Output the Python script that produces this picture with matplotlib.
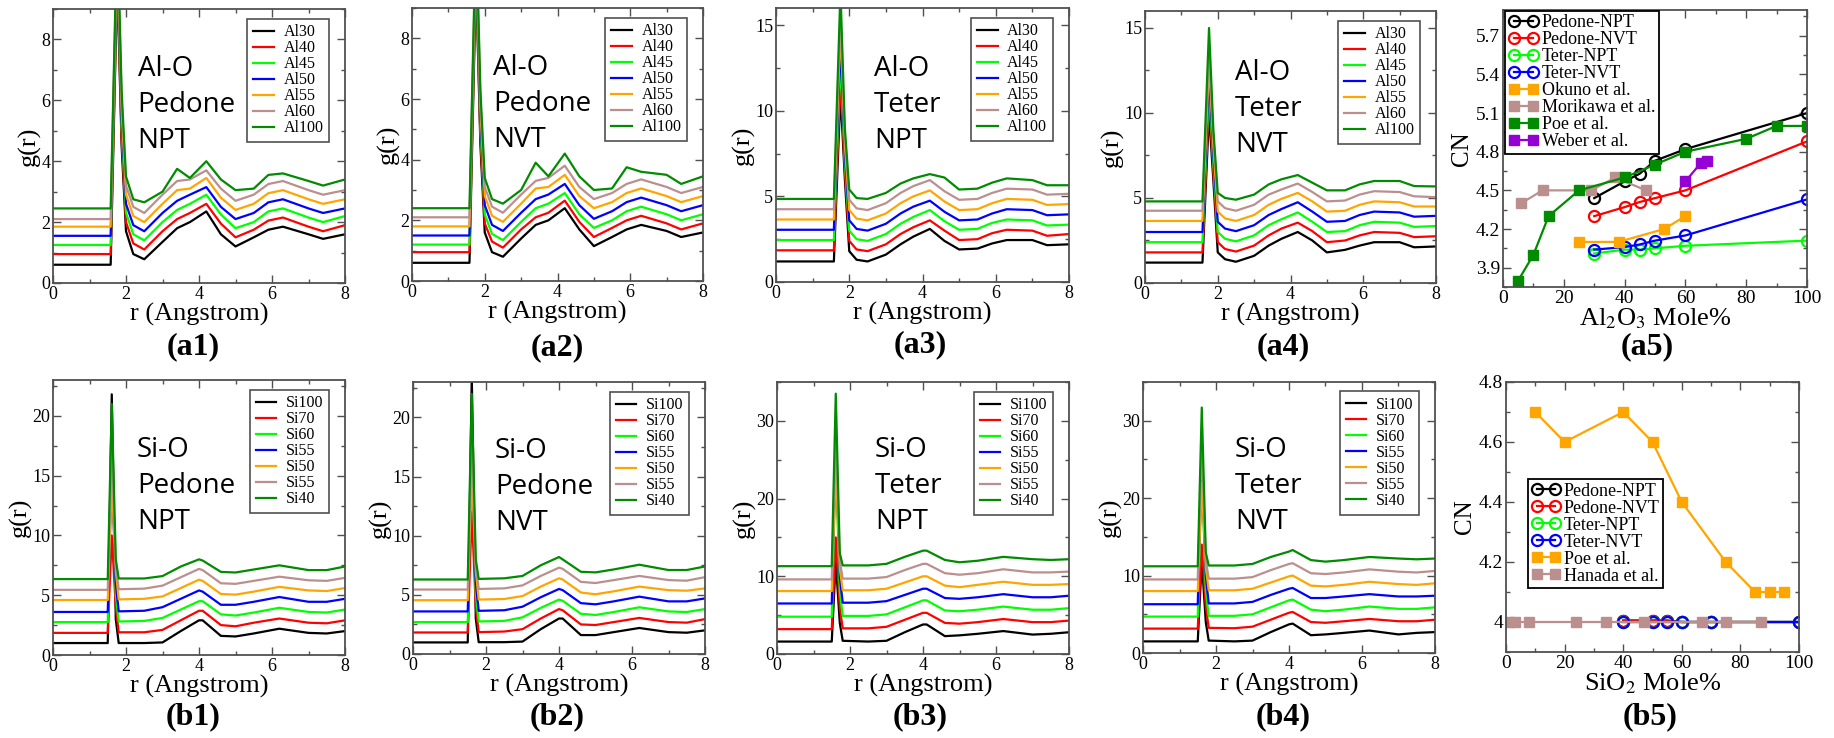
import matplotlib
matplotlib.use("Agg")
import matplotlib.pyplot as plt
from matplotlib.ticker import MultipleLocator

plt.rcParams['font.family'] = ['Liberation Serif', 'DejaVu Serif']
plt.rcParams['mathtext.fontset'] = 'stix'

W, H = 1834, 738

# xmgrace style colours
grace = ['black', '#ff0000', '#00ff00', '#0000ff', '#ffa500', '#bc8f8f', '#008b00']

al_labels = ['Al30', 'Al40', 'Al45', 'Al50', 'Al55', 'Al60', 'Al100']
si_labels = ['Si100', 'Si70', 'Si60', 'Si55', 'Si50', 'Si55', 'Si40']

# ---- Al-O g(r) ----
r_al = [0, 1.58, 1.76, 1.88, 2.0, 2.2, 2.5, 3.0, 3.4, 3.75, 4.2, 4.6, 5.0, 5.5, 5.9, 6.3, 7.0, 7.4, 8.0]

a1_g = [
    [0.6, 0.6, 10.0, 4.5, 1.7, 0.95, 0.78, 1.35, 1.8, 2.0, 2.35, 1.6, 1.2, 1.5, 1.75, 1.85, 1.6, 1.45, 1.6],
    [0.95, 0.95, 10.3, 4.8, 2.0, 1.3, 1.1, 1.7, 2.1, 2.3, 2.6, 1.95, 1.5, 1.75, 2.05, 2.15, 1.85, 1.7, 1.9],
    [1.25, 1.25, 10.6, 5.1, 2.3, 1.6, 1.4, 2.0, 2.4, 2.6, 2.9, 2.25, 1.8, 2.0, 2.35, 2.45, 2.15, 2.0, 2.2],
    [1.55, 1.55, 10.9, 5.4, 2.6, 1.9, 1.7, 2.3, 2.7, 2.9, 3.15, 2.5, 2.1, 2.3, 2.65, 2.75, 2.45, 2.3, 2.45],
    [1.85, 1.85, 11.2, 5.7, 2.9, 2.2, 2.0, 2.6, 3.05, 3.1, 3.45, 2.8, 2.4, 2.6, 2.95, 3.05, 2.75, 2.6, 2.75],
    [2.1, 2.1, 11.5, 6.0, 3.2, 2.5, 2.3, 2.9, 3.35, 3.4, 3.7, 3.1, 2.7, 2.9, 3.25, 3.35, 3.05, 2.9, 3.05],
    [2.45, 2.45, 11.8, 6.3, 3.5, 2.75, 2.65, 3.0, 3.75, 3.45, 4.0, 3.4, 3.05, 3.1, 3.55, 3.6, 3.35, 3.2, 3.4],
]
a2_g = [
    [0.6, 0.6, 10.0, 4.5, 1.6, 0.95, 0.8, 1.4, 1.85, 2.0, 2.4, 1.7, 1.15, 1.45, 1.7, 1.85, 1.65, 1.45, 1.6],
    [0.95, 0.95, 10.3, 4.8, 1.9, 1.3, 1.1, 1.7, 2.1, 2.25, 2.65, 1.95, 1.45, 1.75, 2.0, 2.15, 1.9, 1.7, 1.9],
    [1.2, 1.2, 10.6, 5.1, 2.2, 1.55, 1.35, 1.95, 2.4, 2.55, 2.9, 2.2, 1.75, 2.0, 2.3, 2.45, 2.2, 2.0, 2.2],
    [1.5, 1.5, 10.9, 5.4, 2.5, 1.85, 1.65, 2.25, 2.7, 2.85, 3.2, 2.5, 2.05, 2.3, 2.6, 2.75, 2.5, 2.3, 2.5],
    [1.8, 1.8, 11.2, 5.7, 2.8, 2.15, 1.95, 2.55, 3.05, 3.1, 3.5, 2.8, 2.4, 2.6, 2.9, 3.05, 2.8, 2.6, 2.8],
    [2.1, 2.1, 11.5, 6.0, 3.1, 2.45, 2.25, 2.85, 3.3, 3.4, 3.8, 3.1, 2.7, 2.9, 3.2, 3.35, 3.1, 2.9, 3.1],
    [2.4, 2.4, 11.8, 6.3, 3.4, 2.7, 2.55, 3.0, 3.9, 3.45, 4.2, 3.45, 3.0, 3.05, 3.75, 3.6, 3.5, 3.2, 3.45],
]
a3_g = [
    [1.2, 1.2, 11.0, 6.0, 1.8, 1.3, 1.2, 1.6, 2.2, 2.65, 3.1, 2.4, 1.9, 1.95, 2.25, 2.45, 2.45, 2.15, 2.2],
    [1.85, 1.85, 12.0, 6.5, 2.4, 1.9, 1.8, 2.2, 2.8, 3.2, 3.6, 3.0, 2.45, 2.5, 2.85, 3.05, 3.0, 2.7, 2.8],
    [2.45, 2.45, 13.0, 7.0, 3.0, 2.5, 2.4, 2.8, 3.4, 3.8, 4.2, 3.55, 3.05, 3.1, 3.45, 3.65, 3.6, 3.3, 3.35],
    [3.05, 3.05, 14.0, 7.5, 3.6, 3.1, 3.0, 3.4, 4.0, 4.4, 4.75, 4.1, 3.6, 3.65, 4.0, 4.25, 4.2, 3.9, 3.95],
    [3.65, 3.65, 15.0, 8.0, 4.2, 3.7, 3.6, 4.0, 4.6, 5.0, 5.35, 4.7, 4.2, 4.25, 4.6, 4.85, 4.8, 4.5, 4.55],
    [4.25, 4.25, 15.5, 8.5, 4.8, 4.3, 4.2, 4.6, 5.2, 5.6, 5.95, 5.3, 4.8, 4.85, 5.2, 5.45, 5.4, 5.1, 5.15],
    [4.85, 4.85, 17.0, 9.0, 5.4, 4.9, 4.85, 5.2, 5.75, 6.05, 6.3, 6.1, 5.4, 5.45, 5.8, 6.05, 5.95, 5.65, 5.65],
]
a4_g = [
    [1.2, 1.2, 10.0, 6.0, 1.8, 1.4, 1.25, 1.6, 2.2, 2.6, 3.0, 2.5, 1.8, 1.95, 2.2, 2.4, 2.4, 2.1, 2.15],
    [1.8, 1.8, 11.0, 6.5, 2.4, 2.0, 1.85, 2.2, 2.8, 3.2, 3.55, 3.05, 2.4, 2.5, 2.8, 3.0, 2.95, 2.7, 2.75],
    [2.4, 2.4, 11.5, 7.0, 3.0, 2.6, 2.45, 2.8, 3.4, 3.75, 4.15, 3.6, 3.0, 3.05, 3.4, 3.6, 3.55, 3.3, 3.35],
    [3.0, 3.0, 12.3, 7.5, 3.6, 3.2, 3.05, 3.4, 4.0, 4.35, 4.75, 4.2, 3.6, 3.65, 4.0, 4.2, 4.15, 3.9, 3.95],
    [3.65, 3.65, 13.0, 8.0, 4.2, 3.8, 3.65, 4.0, 4.6, 4.95, 5.3, 4.8, 4.2, 4.25, 4.6, 4.8, 4.75, 4.5, 4.5],
    [4.25, 4.25, 13.5, 8.5, 4.8, 4.4, 4.25, 4.6, 5.2, 5.5, 5.85, 5.35, 4.8, 4.85, 5.2, 5.4, 5.35, 5.1, 5.05],
    [4.8, 4.8, 15.0, 9.0, 5.3, 5.0, 4.9, 5.2, 5.8, 6.1, 6.35, 5.9, 5.45, 5.45, 5.8, 6.0, 6.0, 5.7, 5.68],
]

# ---- Si-O g(r) ----
r_si = [0, 1.5, 1.61, 1.72, 1.8, 2.5, 3.0, 3.5, 4.0, 4.1, 4.6, 5.0, 5.5, 6.2, 7.0, 7.5, 8.0]

b1_g = [
    [1.0, 1.0, 21.8, 3.0, 1.0, 1.0, 1.05, 2.0, 2.9, 2.9, 1.6, 1.55, 1.8, 2.2, 1.85, 1.8, 2.0],
    [1.85, 1.85, 10.0, 4.0, 1.9, 1.9, 2.1, 2.9, 3.7, 3.7, 2.5, 2.4, 2.7, 3.05, 2.7, 2.65, 2.9],
    [2.75, 2.75, 18.0, 5.0, 2.8, 2.85, 3.1, 3.8, 4.5, 4.5, 3.4, 3.3, 3.55, 3.95, 3.6, 3.55, 3.8],
    [3.6, 3.6, 15.5, 6.0, 3.65, 3.7, 4.0, 4.7, 5.4, 5.3, 4.2, 4.2, 4.45, 4.85, 4.45, 4.45, 4.7],
    [4.6, 4.6, 14.5, 7.0, 4.65, 4.7, 4.9, 5.6, 6.3, 6.2, 5.1, 5.05, 5.3, 5.7, 5.4, 5.35, 5.6],
    [5.45, 5.45, 17.0, 7.5, 5.5, 5.55, 5.8, 6.5, 7.2, 7.1, 6.0, 5.95, 6.2, 6.55, 6.25, 6.2, 6.45],
    [6.35, 6.35, 21.0, 8.0, 6.4, 6.4, 6.6, 7.4, 8.0, 7.9, 6.95, 6.9, 7.15, 7.5, 7.1, 7.1, 7.4],
]
b2_g = [
    [0.98, 0.98, 23.5, 3.0, 1.0, 1.0, 1.05, 2.1, 3.0, 3.0, 1.6, 1.6, 1.85, 2.2, 1.85, 1.8, 2.0],
    [1.82, 1.82, 12.0, 4.0, 1.85, 1.9, 2.1, 3.0, 3.8, 3.7, 2.5, 2.45, 2.7, 3.05, 2.7, 2.65, 2.95],
    [2.7, 2.7, 19.0, 5.0, 2.75, 2.8, 3.1, 3.9, 4.6, 4.5, 3.4, 3.3, 3.55, 3.95, 3.6, 3.55, 3.8],
    [3.6, 3.6, 17.0, 6.0, 3.65, 3.7, 4.0, 4.8, 5.5, 5.4, 4.3, 4.2, 4.45, 4.85, 4.45, 4.45, 4.7],
    [4.55, 4.55, 15.5, 7.0, 4.6, 4.65, 4.9, 5.7, 6.4, 6.3, 5.2, 5.05, 5.3, 5.7, 5.4, 5.35, 5.55],
    [5.45, 5.45, 18.0, 7.5, 5.5, 5.55, 5.8, 6.6, 7.3, 7.2, 6.1, 6.0, 6.25, 6.6, 6.25, 6.2, 6.5],
    [6.3, 6.3, 22.0, 8.0, 6.35, 6.4, 6.6, 7.5, 8.2, 8.0, 6.95, 6.9, 7.15, 7.55, 7.1, 7.1, 7.4],
]
b3_g = [
    [1.6, 1.6, 12.0, 4.0, 1.7, 1.6, 1.7, 2.8, 3.8, 3.8, 2.3, 2.4, 2.6, 2.95, 2.5, 2.6, 2.8],
    [3.2, 3.2, 15.0, 6.0, 3.3, 3.3, 3.5, 4.4, 5.3, 5.3, 4.0, 3.9, 4.1, 4.5, 4.1, 4.1, 4.3],
    [4.8, 4.8, 25.0, 8.0, 4.9, 4.9, 5.1, 6.0, 6.9, 6.9, 5.6, 5.5, 5.7, 6.1, 5.7, 5.7, 5.9],
    [6.5, 6.5, 27.0, 10.0, 6.6, 6.6, 6.8, 7.6, 8.4, 8.4, 7.2, 7.1, 7.3, 7.7, 7.3, 7.3, 7.5],
    [8.1, 8.1, 24.0, 11.0, 8.2, 8.2, 8.4, 9.2, 10.0, 10.0, 8.8, 8.6, 8.9, 9.3, 8.9, 8.9, 9.0],
    [9.6, 9.6, 28.0, 12.0, 9.7, 9.7, 9.9, 10.8, 11.6, 11.6, 10.4, 10.2, 10.4, 10.9, 10.5, 10.5, 10.6],
    [11.3, 11.3, 33.5, 13.0, 11.4, 11.4, 11.6, 12.5, 13.3, 13.3, 12.1, 11.8, 12.0, 12.5, 12.2, 12.1, 12.2],
]
b4_g = [
    [1.5, 1.5, 12.0, 4.0, 1.6, 1.5, 1.6, 2.7, 3.7, 3.8, 2.3, 2.4, 2.6, 2.9, 2.4, 2.6, 2.7],
    [3.15, 3.15, 14.0, 6.0, 3.25, 3.2, 3.4, 4.3, 5.2, 5.3, 4.0, 3.9, 4.1, 4.4, 4.1, 4.1, 4.3],
    [4.7, 4.7, 24.0, 8.0, 4.8, 4.8, 5.0, 5.9, 6.8, 6.9, 5.6, 5.4, 5.6, 6.0, 5.7, 5.7, 5.9],
    [6.3, 6.3, 25.0, 10.0, 6.4, 6.4, 6.6, 7.5, 8.3, 8.4, 7.1, 7.1, 7.3, 7.6, 7.3, 7.3, 7.4],
    [8.0, 8.0, 22.0, 11.0, 8.1, 8.1, 8.3, 9.1, 9.9, 10.0, 8.7, 8.6, 8.8, 9.2, 8.9, 8.8, 9.0],
    [9.5, 9.5, 27.0, 12.0, 9.6, 9.6, 9.8, 10.7, 11.5, 11.6, 10.3, 10.2, 10.4, 10.8, 10.5, 10.4, 10.6],
    [11.2, 11.2, 31.7, 13.0, 11.3, 11.3, 11.5, 12.4, 13.1, 13.3, 12.0, 11.8, 12.0, 12.4, 12.2, 12.1, 12.2],
]

# ---- CN vs Al2O3 mole% (a5) ----
al_sim_x = [30, 40, 45, 50, 60, 100]
al_pedone_npt = [4.44, 4.57, 4.63, 4.73, 4.82, 5.10]
al_pedone_nvt = [4.30, 4.37, 4.41, 4.44, 4.50, 4.88]
al_teter_npt = [4.01, 4.04, 4.04, 4.05, 4.07, 4.11]
al_teter_nvt = [4.04, 4.06, 4.08, 4.11, 4.15, 4.43]
okuno_x = [25, 38, 53, 60]
okuno_cn = [4.10, 4.10, 4.20, 4.30]
morikawa_x = [6, 13, 29, 37, 47]
morikawa_cn = [4.40, 4.50, 4.50, 4.60, 4.50]
poe_al_x = [5, 10, 15, 25, 40, 50, 60, 80, 90, 100]
poe_al_cn = [3.80, 4.00, 4.30, 4.50, 4.60, 4.70, 4.80, 4.90, 5.00, 5.00]
weber_x = [60, 65, 67]
weber_cn = [4.57, 4.71, 4.73]

# ---- CN vs SiO2 mole% (b5) ----
si_sim_x = [40, 50, 55, 60, 70, 100]
si_pedone_npt = [4.005, 4.005, 4.005, 4.0, 4.0, 4.0]
si_pedone_nvt = [4.003, 4.003, 4.003, 4.0, 4.0, 4.0]
si_teter_npt = [4.0, 4.0, 4.0, 4.0, 4.0, 4.0]
si_teter_nvt = [4.0, 4.0, 4.0, 4.0, 4.0, 4.0]
poe_si_x = [10, 20, 40, 50, 60, 75, 85, 90, 95]
poe_si_cn = [4.7, 4.6, 4.7, 4.6, 4.4, 4.2, 4.1, 4.1, 4.1]
hanada_x = [1, 3, 8, 24, 34, 47, 67, 75, 87]
hanada_cn = [4.0, 4.0, 4.0, 4.0, 4.0, 4.0, 4.0, 4.0, 4.0]


fig = plt.figure(figsize=(W / 100, H / 100), dpi=100)
frame_col = '#505050'


def add_box(left, top, right, bottom):
    return fig.add_axes([left / W, 1 - bottom / H, (right - left) / W, (bottom - top) / H])


def style(ax, xmaj, xmin, ymaj, ymin, lsize=13):
    ax.xaxis.set_major_locator(MultipleLocator(xmaj))
    ax.xaxis.set_minor_locator(MultipleLocator(xmin))
    ax.yaxis.set_major_locator(MultipleLocator(ymaj))
    ax.yaxis.set_minor_locator(MultipleLocator(ymin))
    ax.tick_params(which='both', direction='in', top=True, right=True, color=frame_col,
                   labelsize=lsize, pad=2)
    ax.tick_params(which='major', length=6, width=1)
    ax.tick_params(which='minor', length=3, width=1)
    for s in ax.spines.values():
        s.set_color(frame_col)
        s.set_linewidth(1.3)


def gr_panel(box, r, curves, labels, ytop, ymaj, ymin, note, note_x, note_y):
    ax = add_box(*box)
    for g, c, lab in zip(curves, grace, labels):
        ax.plot(r, g, color=c, lw=1.6, label=lab)
    ax.set_xlim(0, 8)
    ax.set_ylim(0, ytop)
    style(ax, 2, 1, ymaj, ymin)
    ax.yaxis.set_major_formatter(plt.FuncFormatter(lambda v, p: '%g' % v))
    ax.set_xlabel('r (Angstrom)', fontsize=19, labelpad=0)
    ax.set_ylabel('g(r)', fontsize=19, labelpad=0)
    leg = ax.legend(loc='upper right', bbox_to_anchor=(0.945, 0.965), borderaxespad=0,
                    fontsize=11.5, labelspacing=0.0, handlelength=1.3, handletextpad=0.6,
                    borderpad=0.35, fancybox=False, framealpha=1)
    leg.get_frame().set_edgecolor(frame_col)
    leg.get_frame().set_linewidth(1.2)
    # three lines of annotation, 36 px apart
    pitch = 36 / (box[3] - box[1])
    for i, line in enumerate(note):
        ax.text(note_x, note_y - i * pitch, line, transform=ax.transAxes, va='baseline',
                ha='left', fontsize=20, family=['Open Sans', 'DejaVu Sans'])
    return ax


gr_panel((53, 9, 345, 283), r_al, a1_g, al_labels, 9, 2, 1, ['Al-O', 'Pedone', 'NPT'], 0.29, 0.755)
gr_panel((412, 8, 703, 281), r_al, a2_g, al_labels, 9, 2, 1, ['Al-O', 'Pedone', 'NVT'], 0.28, 0.755)
gr_panel((776, 8, 1069, 282), r_al, a3_g, al_labels, 16, 5, 2.5, ['Al-O', 'Teter', 'NPT'], 0.335, 0.752)
gr_panel((1145, 11, 1436, 283), r_al, a4_g, al_labels, 16, 5, 2.5, ['Al-O', 'Teter', 'NVT'], 0.31, 0.745)
gr_panel((53, 380, 345, 655), r_si, b1_g, si_labels, 23, 5, 2.5, ['Si-O', 'Pedone', 'NPT'], 0.288, 0.72)
gr_panel((413, 382, 705, 654), r_si, b2_g, si_labels, 23, 5, 2.5, ['Si-O', 'Pedone', 'NVT'], 0.28, 0.72)
gr_panel((777, 382, 1069, 654), r_si, b3_g, si_labels, 35, 10, 5, ['Si-O', 'Teter', 'NPT'], 0.335, 0.724)
gr_panel((1143, 382, 1435, 653), r_si, b4_g, si_labels, 35, 10, 5, ['Si-O', 'Teter', 'NVT'], 0.315, 0.724)

# ---- a5 ----
ax5 = add_box(1503, 10, 1807, 287)
circ = dict(marker='o', mfc='none', ms=8, mew=1.6, lw=1.6)
sq = dict(marker='s', ms=7, lw=1.6)
ax5.plot(al_sim_x, al_pedone_npt, color='black', label='Pedone-NPT', **circ)
ax5.plot(al_sim_x, al_pedone_nvt, color='#ff0000', label='Pedone-NVT', **circ)
ax5.plot(al_sim_x, al_teter_npt, color='#00ff00', label='Teter-NPT', **circ)
ax5.plot(al_sim_x, al_teter_nvt, color='#0000ff', label='Teter-NVT', **circ)
ax5.plot(okuno_x, okuno_cn, color='#ffa500', label='Okuno et al.', **sq)
ax5.plot(morikawa_x, morikawa_cn, color='#bc8f8f', label='Morikawa et al.', **sq)
ax5.plot(poe_al_x, poe_al_cn, color='#008b00', label='Poe et al.', **sq)
ax5.plot(weber_x, weber_cn, color='#9400d3', label='Weber et al.', **sq)
ax5.set_xlim(0, 100)
ax5.set_ylim(3.75, 5.9)
style(ax5, 20, 10, 0.3, 0.15, lsize=14)
ax5.yaxis.set_major_locator(plt.FixedLocator([3.9, 4.2, 4.5, 4.8, 5.1, 5.4, 5.7]))
ax5.yaxis.set_major_formatter(plt.FuncFormatter(lambda v, p: '%.1f' % v))
ax5.set_xlabel('Al$_2$O$_3$ Mole%', fontsize=19, labelpad=0)
ax5.set_ylabel('CN', fontsize=18, labelpad=2)
leg = ax5.legend(loc='upper left', bbox_to_anchor=(0.008, 0.997), borderaxespad=0, numpoints=2,
                 fontsize=13, labelspacing=0.0, handlelength=1.6, handletextpad=0.2,
                 borderpad=0.2, fancybox=False, framealpha=1)
leg.get_frame().set_edgecolor('black')
leg.get_frame().set_linewidth(1.3)

# ---- b5 ----
ax6 = add_box(1506, 382, 1799, 652)
ax6.plot(si_sim_x, si_pedone_npt, color='black', label='Pedone-NPT', **circ)
ax6.plot(si_sim_x, si_pedone_nvt, color='#ff0000', label='Pedone-NVT', **circ)
ax6.plot(si_sim_x, si_teter_npt, color='#00ff00', label='Teter-NPT', **circ)
ax6.plot(si_sim_x, si_teter_nvt, color='#0000ff', label='Teter-NVT', **circ)
ax6.plot(poe_si_x, poe_si_cn, color='#ffa500', label='Poe et al.', **sq)
ax6.plot(hanada_x, hanada_cn, color='#bc8f8f', label='Hanada et al.', **sq)
ax6.set_xlim(0, 100)
ax6.set_ylim(3.9, 4.8)
style(ax6, 20, 10, 0.2, 0.1, lsize=14)
ax6.yaxis.set_major_formatter(plt.FuncFormatter(lambda v, p: '%g' % round(v, 1)))
ax6.set_xlabel('SiO$_2$ Mole%', fontsize=19, labelpad=0)
ax6.set_ylabel('CN', fontsize=18, labelpad=2)
leg = ax6.legend(loc='upper left', bbox_to_anchor=(0.074, 0.64), borderaxespad=0, numpoints=2,
                 fontsize=13, labelspacing=0.0, handlelength=1.6, handletextpad=0.2,
                 borderpad=0.2, fancybox=False, framealpha=1)
leg.get_frame().set_edgecolor('black')
leg.get_frame().set_linewidth(1.3)

# ---- panel tags ----
tags = ['(a1)', '(a2)', '(a3)', '(a4)', '(a5)', '(b1)', '(b2)', '(b3)', '(b4)', '(b5)']
tag_x = [193, 557, 920, 1283, 1647, 193, 557, 920, 1283, 1650]
tag_y = [347, 348, 345, 347, 347, 717, 717, 717, 717, 717]
for t, x, y in zip(tags, tag_x, tag_y):
    fig.text(x / W, 1 - y / H, t, ha='center', va='center', fontsize=23, fontweight='bold')

fig.savefig('out.png', dpi=100)
